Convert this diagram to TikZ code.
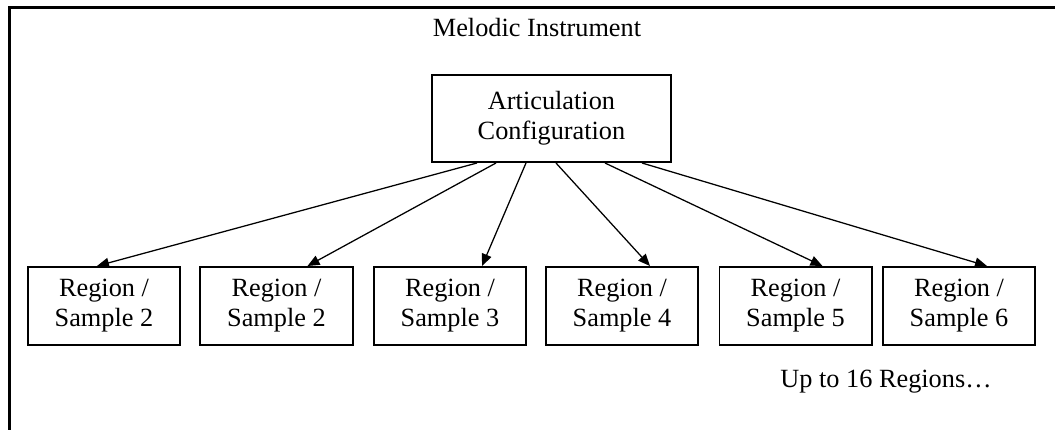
\documentclass[tikz,border=0pt]{standalone}
\usepackage{fontspec}
\setmainfont{Liberation Serif}
\usetikzlibrary{arrows.meta, calc}
\tikzset{
  every picture/.style={font=\fontsize{18.7}{21.4}\selectfont},
  frame/.style={draw=black, line width=1.5pt},
  box/.style={draw=black, line width=1.4pt, align=center, inner sep=0pt},
  regbox/.style={box, minimum width=3.8cm, minimum height=1.95cm},
  cfgbox/.style={box, minimum width=5.975cm, minimum height=2.175cm},
  arrow/.style={-{Triangle[length=3mm, width=2.5mm]}, line width=0.9pt},
  caption/.style={inner sep=0pt},
}

\begin{document}
\begin{tikzpicture}[x=0.025cm, y=-0.025cm]
  \useasboundingbox (0,0) rectangle (1055,429);
  \clip (0,0) rectangle (1055,429);
  % outer frame, runs off the page on the right and bottom
  \draw[frame] (9.5,7.5) rectangle (1080,450);
  \node[caption] (title) at (537,28) {Melodic Instrument};
  \node[cfgbox] (cfg) at (551.5,118.5) {Articulation\\Configuration};
  % region boxes
  \foreach \x/\n/\k in {104/2/1, 276.5/2/2, 450/3/3, 622/4/4, 795.5/5/5, 959/6/6}
    \node[regbox] (r\k) at (\x,306) {Region /\\Sample \n};
  \foreach \a/\k/\b in {46/1/-7, 65/2/31, 95/3/32, 125/4/28, 174/5/27, 211/6/28}
    \draw[arrow] ($(cfg.south west)+(\a,0)$) -- ($(r\k.north)+(\b,0)$);
  \node[caption] (more) at (886,382) {Up to 16 Regions…};
\end{tikzpicture}
\end{document}
